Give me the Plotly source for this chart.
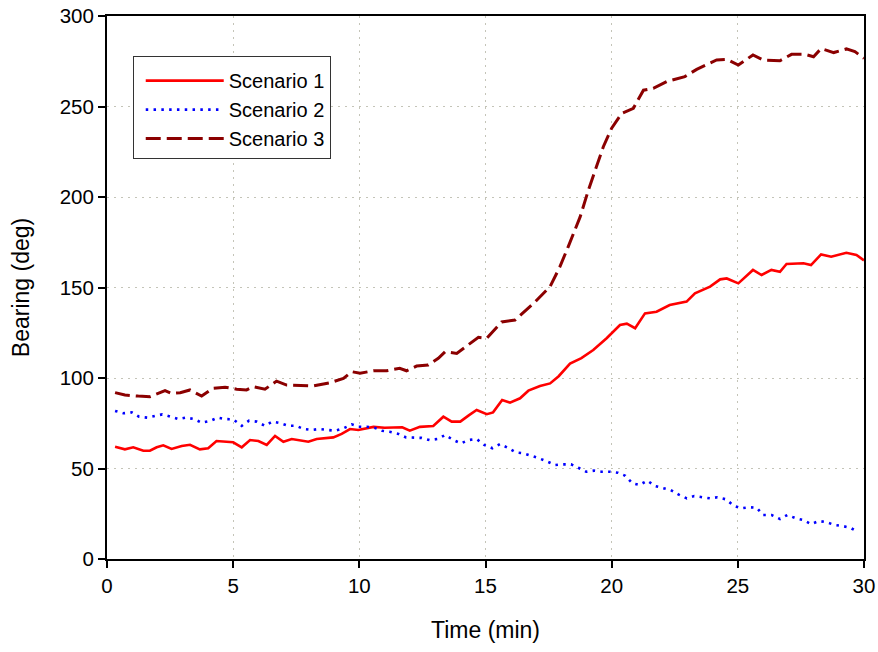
import plotly.graph_objects as go

# ---- Data ----
s1_t = [0.32, 0.71, 1.04, 1.44, 1.7, 1.97, 2.23, 2.56, 2.96, 3.29, 3.68, 4.01, 4.34, 4.68, 5.0,
        5.34, 5.67, 6.0, 6.33, 6.66, 6.99, 7.32, 7.65, 7.98, 8.31, 8.64, 8.97, 9.3, 9.63, 9.96,
        10.3, 10.56, 11.0, 11.4, 11.7, 12.0, 12.4, 12.93, 13.33, 13.66, 14.0, 14.35, 14.65, 15.05,
        15.3, 15.66, 15.97, 16.37, 16.7, 17.16, 17.56, 17.9, 18.35, 18.8, 19.27, 19.8, 20.33, 20.6,
        20.93, 21.32, 21.78, 22.3, 22.97, 23.3, 23.9, 24.3, 24.56, 25.02, 25.6, 25.94, 26.33, 26.67,
        26.93, 27.6, 27.9, 28.3, 28.7, 29.3, 29.7, 30.0]
s1_v = [62, 60.6, 61.7, 59.8, 59.8, 61.7, 62.8, 60.8, 62.4, 63.1, 60.6, 61.2, 65.2, 64.8, 64.5,
        61.7, 65.7, 65.2, 63, 68, 64.8, 66.3, 65.7, 64.8, 66.3, 66.7, 67.2, 69.1, 71.8, 71.3,
        72.5, 73, 72.5, 72.6, 72.8, 70.9, 73, 73.5, 78.6, 75.9, 75.9, 79.5, 82.3, 80,
        81, 87.8, 86.4, 88.8, 93, 95.6, 97, 101, 108, 111, 115.5, 122, 129.3, 130,
        127.5, 135.7, 136.6, 140.3, 142.2, 146.8, 150.5, 154.5, 155, 152.3, 159.7, 156.9, 159.7, 158.7,
        163, 163.4, 162.4, 168.3, 167, 169.2, 168, 165]

s2_t = [0.32, 0.65, 0.98, 1.27, 1.6, 1.9, 2.19, 2.52, 2.83, 3.13, 3.46, 3.75, 4.08, 4.39, 4.68,
        5.0, 5.34, 5.63, 5.93, 6.26, 6.55, 6.88, 7.19, 7.49, 7.8, 8.11, 8.41, 8.75, 9.04, 9.37,
        9.7, 9.96, 10.29, 10.6, 10.9, 11.2, 11.55, 11.85, 12.17, 12.45, 12.78, 13.1, 13.4, 13.73,
        14.03, 14.32, 14.65, 14.95, 15.27, 15.58, 15.88, 16.2, 16.5, 16.8, 17.13, 17.45, 17.76,
        18.06, 18.39, 18.68, 18.99, 19.3, 19.6, 19.94, 20.24, 20.54, 20.82, 21.1, 21.41, 21.72,
        22.05, 22.34, 22.64, 22.98, 23.27, 23.6, 23.9, 24.19, 24.52, 24.85, 25.13, 25.46, 25.75,
        26.0, 26.34, 26.67, 26.96, 27.3, 27.6, 27.9, 28.22, 28.52, 28.83, 29.16, 29.45, 29.78]
s2_v = [81.8, 80.5, 81.0, 78.6, 78.1, 79, 79.9, 78.6, 77.3, 78.1, 77.3, 75.3, 76.2, 78.1, 77.3,
        77.2, 73.6, 76.4, 75.9, 73.6, 75.9, 75, 73.6, 73.6, 71.8, 71.3, 71.8, 71.3, 70.9, 72.2,
        74.4, 73.1, 73.1, 72.5, 70.9, 70.3, 69.1, 67.2, 66.9, 66.9, 65.7, 66.3, 68.5, 65.7,
        63.9, 65.7, 66.3, 63, 61.2, 63.5, 61.5, 58.9, 58.4, 57.1, 55.6, 53.8, 51.9,
        52.3, 52.3, 50.4, 48.2, 48.8, 48.2, 48.2, 47.7, 46, 41.8, 40.9, 43.3, 40.3,
        39, 38.1, 35.7, 33.5, 34.8, 34.1, 33.5, 34.1, 33, 29.4, 28, 28.6, 28.3,
        24.3, 24.3, 22.1, 24.3, 22.5, 21.5, 19.3, 21, 20.3, 18.8, 18.2, 17.3, 14.8]

s3_t = [0.32, 0.71, 1.24, 1.7, 2.3, 2.56, 2.9, 3.29, 3.75, 4.2, 4.68, 5.14, 5.53, 5.8, 6.26,
        6.72, 7.12, 7.65, 8.18, 8.84, 9.37, 9.7, 10.03, 10.56, 11.08, 11.6, 11.87, 12.27, 12.73,
        13.13, 13.4, 13.86, 14.39, 14.72, 15.05, 15.64, 16.17, 16.96, 17.56, 17.95, 18.28, 18.75,
        19.08, 19.4, 19.67, 20.0, 20.4, 20.86, 21.26, 21.65, 22.18, 22.9, 23.37, 24.16, 24.56,
        25.02, 25.6, 26.0, 26.67, 27.13, 27.67, 28.0, 28.3, 28.8, 29.3, 29.64, 30.0]
s3_v = [91.9, 90.6, 90, 89.7, 93, 91.5, 91.9, 93.4, 90, 94.3, 94.9, 93.8, 93.4, 95.2, 93.8,
        98.3, 96.1, 95.8, 95.6, 97.4, 99.8, 103.5, 102.6, 104, 104, 105.4, 104, 106.6, 107.2,
        110.9, 114.5, 113.6, 119.2, 122.5, 121.9, 131, 132, 142, 150.5, 161.5, 172.6, 189,
        203.9, 216.7, 227.8, 238, 246.2, 249, 259, 260, 263.8, 266.5, 270.5, 275.7, 276,
        272.9, 278.5, 275.7, 275.3, 278.8, 278.8, 277.5, 282, 279.8, 281.8, 280.3, 276.6]

names = ["Scenario 1", "Scenario 2", "Scenario 3"]
x_ticks = [0, 5, 10, 15, 20, 25, 30]
y_ticks = [0, 50, 100, 150, 200, 250, 300]

FONT = "Liberation Sans, Arial, sans-serif"

fig = go.Figure()
fig.add_trace(go.Scatter(x=s1_t, y=s1_v, mode="lines", name=names[0],
                         line=dict(color="#ff0000", width=2.6)))
fig.add_trace(go.Scatter(x=s2_t, y=s2_v, mode="lines", name=names[1],
                         line=dict(color="#0000ff", width=2.6, dash="2.5px,5.3px")))
fig.add_trace(go.Scatter(x=s3_t, y=s3_v, mode="lines", name=names[2],
                         line=dict(color="#8b0000", width=3, dash="15px,6px")))

axis_common = dict(
    showline=True, linecolor="black", linewidth=2, mirror=True,
    ticks="outside", ticklen=7, tickwidth=2, tickcolor="black",
    showgrid=True, gridcolor="#c4c4b8", gridwidth=1, griddash="2px,5px",
    zeroline=False, tickfont=dict(family=FONT, size=20.5, color="black"),
)

fig.update_xaxes(range=[0, 30], tickvals=x_ticks, ticktext=[str(v) for v in x_ticks],
                 title=dict(text="Time (min)", font=dict(family=FONT, size=23, color="black"),
                            standoff=26),
                 **axis_common)
fig.update_yaxes(range=[0, 300], tickvals=y_ticks, ticktext=[str(v) for v in y_ticks],
                 title=dict(text="Bearing (deg)", font=dict(family=FONT, size=23, color="black"),
                            standoff=24),
                 **axis_common)

fig.update_layout(
    width=878, height=652,
    margin=dict(l=107, r=14, t=16, b=93, autoexpand=False),
    paper_bgcolor="white", plot_bgcolor="white",
    font=dict(family=FONT, color="black"),
    legend=dict(x=0.034, y=0.926, xanchor="left", yanchor="top",
                bgcolor="white", bordercolor="#333333", borderwidth=1,
                font=dict(family=FONT, size=20, color="black"),
                itemwidth=78, indentation=7, tracegroupgap=0,
                title=dict(text=" ", font=dict(size=3))),
    showlegend=True,
)

fig.write_html("out.html")
